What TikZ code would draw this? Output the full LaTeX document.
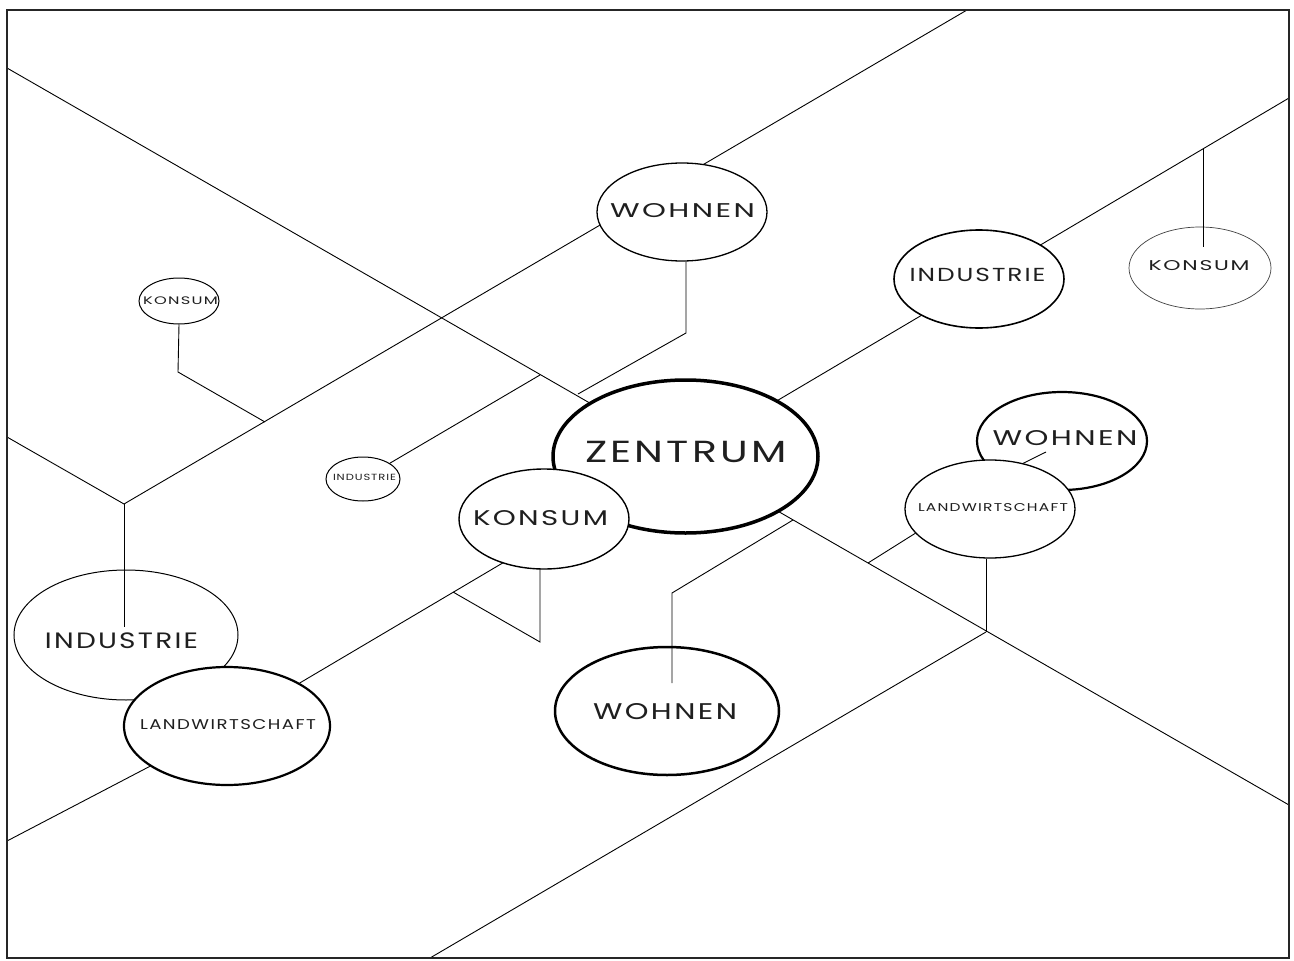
\documentclass[tikz,border=0pt]{standalone}
\usepackage{fontspec}
\setmainfont{Poppins}[LetterSpace=8]
\usetikzlibrary{shapes.geometric}

\pgfdeclarelayer{bg}
\pgfsetlayers{bg,main}

\tikzset{
  place/.style={ellipse, draw, fill=white, inner sep=0pt, line width=1.2pt, text=black!88,
    font=\fontsize{20}{20}\selectfont},
  road/.style={line width=0.9pt},
}
% width, cap height, x offset, raise, text
\newcommand{\lbl}[5]{\makebox[0pt]{\hspace*{#3pt}\hspace*{#3pt}\raisebox{#4pt}[#2pt][0pt]{\resizebox{#1pt}{#2pt}{#5}}}}

\begin{document}
\begin{tikzpicture}[x=1pt,y=-1pt]
\useasboundingbox (0,0) rectangle (1294,961);
\draw[line width=2.5pt, black!85] (7,10) rectangle (1289,958);

% places
\node[place, minimum width=224, minimum height=130, line width=1pt] (indL) at (126,635) {\lbl{153}{15.7}{-4.5}{-6}{INDUSTRIE}};
\node[place, minimum width=206, minimum height=118, line width=2.2pt] (landL) at (227,726) {\lbl{176}{10}{1}{1.5}{LANDWIRTSCHAFT}};
\node[place, minimum width=80, minimum height=46, line width=1pt] (konsumS) at (179,301) {\lbl{75}{7.7}{1.5}{0}{KONSUM}};
\node[place, minimum width=74, minimum height=44, line width=1pt] (indS) at (363,479) {\lbl{63}{6.3}{1.5}{1.5}{INDUSTRIE}};
\node[place, minimum width=170, minimum height=98, line width=1.3pt] (wohnenT) at (682,212) {\lbl{145}{14}{0.5}{1.7}{WOHNEN}};
\node[place, minimum width=265, minimum height=153, line width=3.5pt] (zentrum) at (685.5,456.5) {\lbl{202}{21.3}{0.5}{5}{ZENTRUM}};
\node[place, minimum width=170, minimum height=100, line width=1.4pt] (konsumC) at (544,519) {\lbl{135}{15}{-3.5}{1.5}{KONSUM}};
\node[place, minimum width=224, minimum height=128, line width=2.5pt] (wohnenB) at (667,711) {\lbl{144}{16}{-2}{0}{WOHNEN}};
\node[place, minimum width=170, minimum height=98, line width=1.6pt] (indR) at (979,279) {\lbl{136}{13.3}{-1.5}{4}{INDUSTRIE}};
\node[place, minimum width=142, minimum height=82, line width=0.7pt, draw=black!75] (konsumR) at (1200,268) {\lbl{101}{10}{-1}{3}{KONSUM}};
\node[place, minimum width=170, minimum height=98, line width=2.2pt] (wohnenR) at (1062,441) {\lbl{145}{15}{3}{3.5}{WOHNEN}};
\node[place, minimum width=170, minimum height=98, line width=1.3pt] (landR) at (990,509) {\lbl{150}{8}{3}{1.7}{LANDWIRTSCHAFT}};

% junctions on the roads
\coordinate (jInd) at (124,504);
\coordinate (jKon) at (265,422);
\coordinate (jIndS) at (540,375);
\coordinate (jWohB) at (793,520);
\coordinate (jLandR) at (868,563);
\coordinate (jSouth) at (986,632);
\coordinate (jKonC) at (453,592);
\coordinate (jKonR) at (1203,149);

\begin{pgfonlayer}{bg}
  \draw[road] (7,68) -- (1289,805);
  \draw[road] (7,437) -- (jInd) -- (967,10);
  \draw[road] (landL) -- (1289,98);
  \draw[road] (landL) -- (7,841);
  \draw[road] (430,958) -- (jSouth);
  \draw[road] (indS) -- (jIndS);
  \draw[road] (konsumS.south) -- (178,372) -- (jKon);
  \draw[road] (686,262) -- (686,333) -- (578,394);
  \draw[road] (540,569) -- (540,642) -- (jKonC);
  \draw[road] (landR.198) -- (jLandR);
  \draw[road] (jSouth |- landR.south) -- (jSouth);
\end{pgfonlayer}

% stubs reaching into the places
\draw[road] (jInd) -- (124,627);
\draw[road] (jKonR) -- (1203,247);
\draw[road] (672,683) -- (672,593) -- (jWohB);
\draw[road] (landR.54) -- (1046,452);
\end{tikzpicture}
\end{document}
